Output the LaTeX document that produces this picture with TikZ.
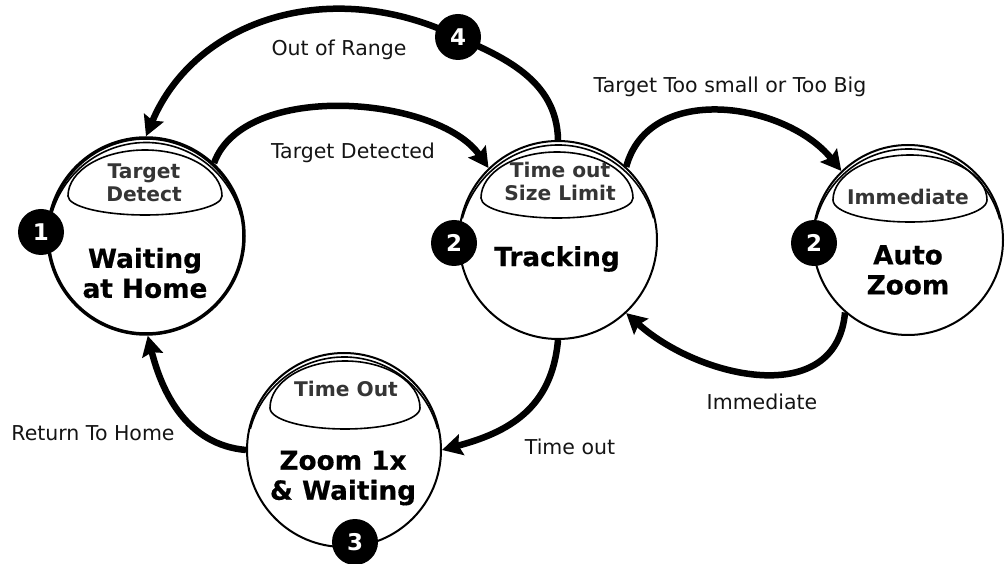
\documentclass[tikz,border=0pt]{standalone}
\usepackage{fontspec}
\setmainfont{DejaVu Sans}
\usetikzlibrary{arrows.meta}
\definecolor{innergray}{HTML}{353535}
\definecolor{edgetext}{HTML}{141414}
\begin{document}
\begin{tikzpicture}[x=1pt,y=1pt,
  state/.style={circle, draw=black, fill=white, line width=2pt, inner sep=0pt},
  badge/.style={circle, fill=black, text=white, minimum size=46pt, inner sep=0pt,
                font=\fontsize{23}{26}\selectfont\bfseries},
  inlabel/.style={align=center, text=innergray, font=\fontsize{20.2}{23}\selectfont\bfseries},
  mainlabel/.style={align=center, text=black, font=\fontsize{26.3}{30}\selectfont\bfseries\addfontfeature{FakeBold=0.5}},
  elabel/.style={text=edgetext, font=\fontsize{20.5}{23}\selectfont},
  dome/.style={line width=1.6pt},
  rim/.style={line width=1.6pt},
  arr/.style={line width=6.5pt, -{Stealth[length=20pt,width=21pt,inset=3pt]}},
]
\useasboundingbox (0,0) rectangle (1005,563);

% states
\node[state, minimum size=196pt, line width=3.5pt] (c1) at (146,327) {};
\node[state, minimum size=198pt] (c2) at (558,323) {};
\node[state, minimum size=190pt] (c3) at (908,323) {};
\node[state, minimum size=194pt] (c4) at (344,113) {};

% inner rims (double line at top)
\draw[rim] ([yshift=-4.5pt]c1.center) ++(15:98pt) arc[start angle=15,end angle=165,radius=98pt];
\draw[rim] ([yshift=-4pt]c2.center) ++(15:99pt) arc[start angle=15,end angle=165,radius=99pt];
\draw[rim] ([yshift=-4pt]c3.center) ++(15:95pt) arc[start angle=15,end angle=165,radius=95pt];
\draw[rim] ([yshift=-4pt]c4.center) ++(15:97pt) arc[start angle=15,end angle=165,radius=97pt];

% domes
\draw[dome] (68,367) arc[start angle=180,end angle=0,x radius=77pt,y radius=46pt]
  arc[start angle=0,end angle=-180,x radius=77pt,y radius=19pt] -- cycle;
\draw[dome] (481,365) arc[start angle=180,end angle=0,x radius=76pt,y radius=46pt]
  arc[start angle=0,end angle=-180,x radius=76pt,y radius=20pt] -- cycle;
\draw[dome] (833,363) arc[start angle=180,end angle=0,x radius=77pt,y radius=45pt]
  arc[start angle=0,end angle=-180,x radius=77pt,y radius=22pt] -- cycle;
\draw[dome] (270,155) arc[start angle=180,end angle=0,x radius=75pt,y radius=47pt]
  arc[start angle=0,end angle=-180,x radius=75pt,y radius=21pt] -- cycle;

% labels inside states
\node[inlabel] (t1) at (144,380) {Target\\Detect};
\node[inlabel] (t2) at (560,382) {Time out\\Size Limit};
\node[inlabel] (t3) at (908,366) {Immediate};
\node[inlabel] (t4) at (346,174) {Time Out};

\node[mainlabel] (m1) at (145,290) {Waiting\\at Home};
\node[mainlabel] (m2) at (557,304) {Tracking};
\node[mainlabel] (m3) at (908,293) {Auto\\Zoom};
\node[mainlabel] (m4) at (343,85) {Zoom 1x\\\& Waiting};

% connectors
\coordinate (p4) at (458,526);
\draw[arr] (c1.47) to[out=70,in=125,looseness=0.82] (c2.134);
\draw[arr] (c2.90) .. controls (557,483) and (503,506) .. (p4)
                   .. controls (330,588) and (195,543) .. (c1.90);
\draw[arr] (c2.47) to[out=75,in=129,looseness=1.05] (c3.134);
\draw[arr] (c3.-131) to[out=-95,in=-42,looseness=1.14] (c2.-47);
\draw[arr] (c2.-90) to[out=-95,in=15,looseness=1.1] (c4.0);
\draw[arr] (c4.180) to[out=175,in=-76] (c1.-89);

% connector labels
\node[elabel] (l1) at (353,410) {Target Detected};
\node[elabel] (l2) at (339,513) {Out of Range};
\node[elabel] (l3) at (730,476) {Target Too small or Too Big};
\node[elabel] (l4) at (762,161) {Immediate};
\node[elabel] (l5) at (570,116) {Time out};
\node[elabel] (l6) at (93,130) {Return To Home};

% badges
\node[badge] (b1) at (41,331) {1};
\node[badge] (b2) at (454,320) {2};
\node[badge] (b5) at (814,320) {2};
\node[badge] (b3) at (355,21) {3};
\node[badge] (b4) at (p4) {4};
\end{tikzpicture}
\end{document}
